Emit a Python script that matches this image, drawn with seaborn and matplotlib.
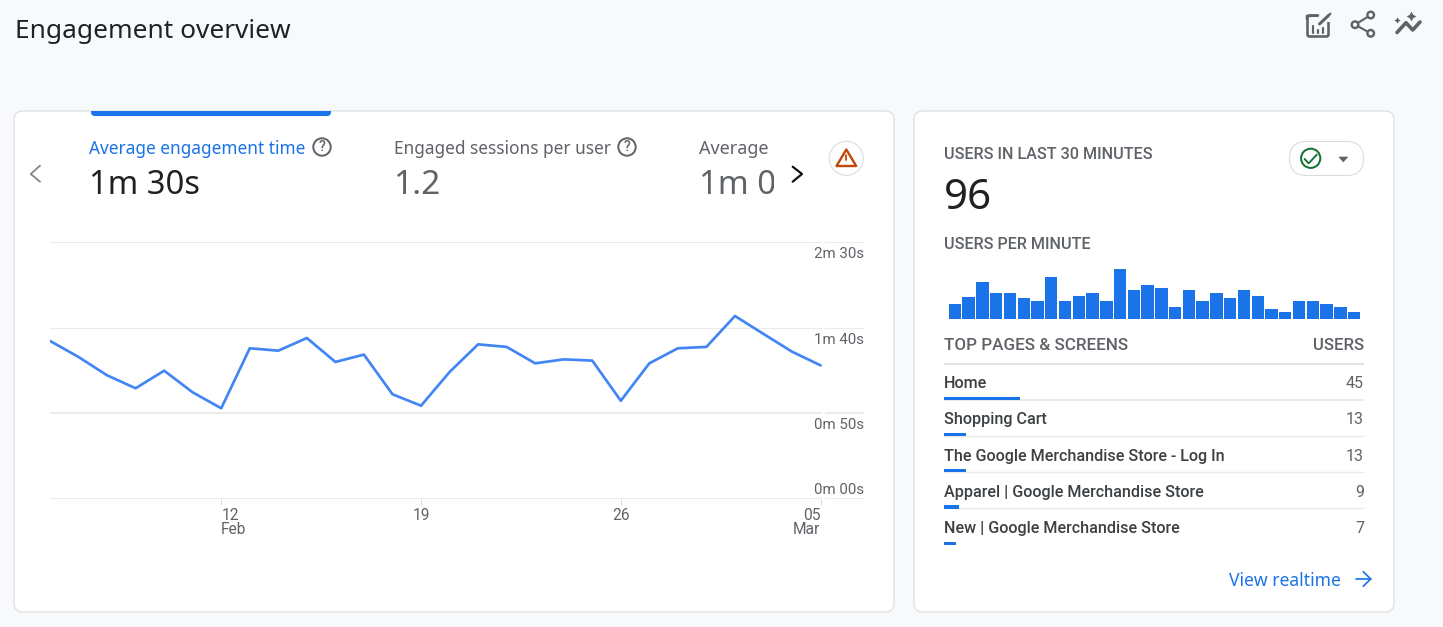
import numpy as np
import pandas as pd
import matplotlib
matplotlib.use("Agg")
import matplotlib.pyplot as plt
import seaborn as sns
from matplotlib.patches import FancyBboxPatch, Rectangle, Circle, Polygon
from matplotlib.transforms import ScaledTranslation

# ---------- data ----------
start_date = "2023-02-06"
engagement_seconds = [92.3, 82.9, 72.2, 64.6, 74.9, 62.2, 52.9, 88.0, 86.6, 94.0,
                      80.0, 84.3, 61.1, 54.4, 74.1, 90.3, 88.8, 79.2, 81.5, 80.8,
                      57.3, 79.2, 88.0, 88.8, 106.9, 96.4, 86.0, 78.0]
y_ticks = [0, 50, 100, 150]
y_tick_labels = ["0m 00s", "0m 50s", "1m 40s", "2m 30s"]
x_tick_dates = ["2023-02-12", "2023-02-19", "2023-02-26", "2023-03-05"]
x_tick_labels = ["12\nFeb", "19", "26", "05\nMar"]
users_per_minute = [6, 9, 15, 10.4, 10.4, 8.4, 7.2, 16.8, 7.2, 9.2, 10.4, 7.2, 20, 11.6, 13.6,
                    12.4, 4.8, 11.6, 7.2, 10.4, 8.4, 11.6, 9.2, 4, 2.8, 7.2, 7.2, 6, 4.8, 2.8]
pages = ["Home", "Shopping Cart", "The Google Merchandise Store - Log In",
         "Apparel | Google Merchandise Store", "New | Google Merchandise Store"]
page_users = [45, 13, 13, 9, 7]

# ---------- style ----------
W, H = 1443, 627
BG = "#f8f9fb"; BORDER = "#dadce0"; GREY = "#5f6368"; DARK = "#202124"
BLUE = "#1a73e8"; LINE = "#4285f4"; LINK = "#1a73e8"; GRID = "#ebebeb"
HEAD = "Noto Sans"; BODY = "Roboto"
sns.set_theme(style="white")
plt.rcParams["font.family"] = [BODY, "DejaVu Sans"]

fig = plt.figure(figsize=(W / 100, H / 100), dpi=100, facecolor=BG)
px = 0.72  # points per pixel at 100 dpi


def box(x0, y0, x1, y1, z):
    return fig.add_axes([x0 / W, 1 - y1 / H, (x1 - x0) / W, (y1 - y0) / H], zorder=z)


def overlay(z):
    a = box(0, 0, W, H, z)
    a.set_xlim(0, W); a.set_ylim(H, 0); a.axis("off"); a.patch.set_alpha(0)
    return a


bg = overlay(0)
fg = overlay(5)
renderer = fig.canvas.get_renderer()


def T(x, y, s, size, color=GREY, ha="left", family=BODY, w=None, weight="normal", ax=None):
    t = (ax or fg).text(x, y, s, fontsize=size * px, color=color, ha=ha, va="baseline",
                        family=family, weight=weight)
    if w is not None:
        cur = t.get_window_extent(renderer).width
        t.set_fontsize(t.get_fontsize() * w / cur)
    return t


def poly(pts, color=GREY, lw=2.0, ax=None, **kw):
    xs, ys = zip(*pts)
    (ax or fg).plot(xs, ys, color=color, lw=lw * px, solid_capstyle="round",
                    solid_joinstyle="round", **kw)


def help_icon(cx, cy):
    fg.add_patch(Circle((cx, cy), 8.7, fill=False, ec=GREY, lw=2.0 * px))
    fg.text(cx, cy + 0.3, "?", fontsize=14 * px, color=GREY, ha="center", va="center",
            family=BODY, weight="medium")


# ---------- cards ----------
for x0, y0, x1, y1 in [(14, 111, 894, 612), (914, 111, 1394, 612)]:
    bg.add_patch(FancyBboxPatch((x0, y0), x1 - x0, y1 - y0,
                                boxstyle="round,pad=0,rounding_size=9",
                                fc="white", ec=BORDER, lw=1.1 * px))
tab = FancyBboxPatch((91, 95), 240, 21, boxstyle="round,pad=0,rounding_size=4", fc=BLUE, ec="none")
bg.add_patch(tab)
tab.set_clip_path(Rectangle((0, 110.5), W, 10, transform=bg.transData))

# ---------- header ----------
T(15, 38.3, "Engagement overview", 26, DARK, family=HEAD, w=275)

# top-right icons
fg.add_patch(FancyBboxPatch((1307.5, 15.5), 21, 21, boxstyle="round,pad=0,rounding_size=2",
                            fc="none", ec=GREY, lw=2.6 * px))
fg.add_patch(Rectangle((1318, 10), 13, 11.5, fc=BG, ec="none"))
poly([(1307, 19), (1307, 16), (1318, 15.5)], lw=2.6)
for bx, by in [(1313, 26), (1318, 30), (1323, 28)]:
    poly([(bx, by), (bx, 33)], lw=2.2)
poly([(1319.5, 24), (1329, 15)], lw=3)
poly([(1330, 14), (1330.5, 13.5)], lw=2)
poly([(1370.7, 15), (1355, 24.7), (1370.7, 33.3)], lw=2.1)
for nx, ny in [(1370.7, 15), (1355, 24.7), (1370.7, 33.3)]:
    fg.add_patch(Circle((nx, ny), 3.3, fc=BG, ec=GREY, lw=2.4 * px, zorder=4))
poly([(1397, 32.5), (1406, 22.7), (1412.7, 30), (1420, 22)], lw=3.6)
fg.plot([1397.3], [20], marker=(4, 1, 0), ms=4.5, color=GREY, mew=0)
fg.plot([1411], [16.2], marker=(4, 1, 0), ms=7, color=GREY, mew=0)

# ---------- metric tabs ----------
T(89, 154, "Average engagement time", 18, LINK, family=HEAD, w=215)
help_icon(322, 147)
T(89, 194.3, "1m 30s", 36, DARK, family=HEAD, w=111)
T(394, 154, "Engaged sessions per user", 18, GREY, family=HEAD, w=215)
help_icon(627, 147)
T(394, 194.3, "1.2", 33.5, GREY, family=HEAD)
clip = Rectangle((680, 130), 94, 70, transform=fg.transData)
for t in (T(699, 154, "Average e", 18, GREY, family=HEAD),
          T(699, 194.3, "1m 0", 33, GREY, family=HEAD)):
    t.set_clip_path(clip); t.set_clip_on(True)
poly([(40, 165.7), (30.7, 174), (40, 181.7)], color="#80868b", lw=1.8)
poly([(792.7, 166.7), (802, 174), (792.7, 181.7)], color="#111111", lw=2.2)
fg.add_patch(Circle((846.3, 158.3), 17, fc="white", ec=BORDER, lw=1.1 * px))
fg.add_patch(Polygon([(846.3, 149.5), (836.5, 166), (856.2, 166)], closed=True, fc="none",
                     ec="#bf4a0c", lw=2.4 * px, joinstyle="round"))
poly([(846.3, 155), (846.3, 160)], color="#bf4a0c", lw=1.8)
poly([(846.3, 162.6), (846.3, 163.2)], color="#bf4a0c", lw=1.8)

# ---------- line chart ----------
dates = pd.date_range(start_date, periods=len(engagement_seconds), freq="D")
df = pd.DataFrame({"date": dates, "seconds": engagement_seconds})
ax = box(50, 242.3, 863.6, 498.7, 1)
ax.patch.set_alpha(0)
sns.lineplot(data=df, x="date", y="seconds", color=LINE, lw=2.7 * px, ax=ax, errorbar=None)
ax.set_xlabel(""); ax.set_ylabel("")
day0 = matplotlib.dates.date2num(dates[0])
ax.set_xlim(day0, day0 + (863.6 - 50) / 28.54)
ax.set_ylim(0, 150)
sns.despine(ax=ax, left=True, bottom=True, top=True, right=True)
ax.set_yticks(y_ticks, labels=y_tick_labels)
ax.grid(axis="y", color=GRID)
for val, gl in zip(y_ticks, ax.get_ygridlines()):
    gl.set_linewidth((2.0 if val < 100 else 1.3) * px)
ax.tick_params(axis="y", left=False, right=False, labelleft=False, labelright=True, pad=0,
               length=0, labelsize=15 * px, labelcolor=GREY)
for val, tick in zip(y_ticks, ax.yaxis.get_major_ticks()):
    lab = tick.label2
    lab.set_ha("right"); lab.set_va("baseline")
    dy = 4.4 if val == 0 else -16
    lab.set_transform(lab.get_transform() + ScaledTranslation(0.4 * px / 72, dy * px / 72, fig.dpi_scale_trans))
ax.set_xticks(pd.to_datetime(x_tick_dates), labels=x_tick_labels)
ax.tick_params(axis="x", bottom=True, length=6 * px, width=1 * px, color=BORDER, pad=3 * px,
               labelsize=15.5 * px, labelcolor=GREY)
for i, lab in enumerate(ax.get_xticklabels()):
    lab.set_linespacing(0.98)
    if i == 0:
        lab.set_ha("left"); lab.set_multialignment("left")
    elif i == 3:
        lab.set_ha("right"); lab.set_multialignment("right")
# small breaks in the gridlines beside the last date
for gy in (242.3, 327.8, 413.3, 498.7):
    fg.add_patch(Rectangle((821.5, gy - 2), 3.5, 4, fc="white", ec="none"))

# ---------- realtime card ----------
T(944, 159.3, "USERS IN LAST 30 MINUTES", 13.5, GREY, w=207, weight="medium")
T(944, 208.7, "96", 46, DARK, family=HEAD, w=48)
T(944, 249, "USERS PER MINUTE", 13.5, GREY, w=146, weight="medium")
T(944, 350, "TOP PAGES & SCREENS", 13.5, GREY, w=183, weight="medium")
T(1364, 350, "USERS", 13.5, GREY, ha="right", w=51, weight="medium")
fg.add_patch(FancyBboxPatch((1289.5, 141.5), 74, 34, boxstyle="round,pad=0,rounding_size=17",
                            fc="white", ec=BORDER, lw=1.1 * px))
fg.add_patch(Circle((1310.7, 158.3), 9.6, fc="none", ec="#137333", lw=2.0 * px))
poly([(1304.6, 159), (1308.7, 163.4), (1316.8, 154.6)], color="#137333", lw=1.9)
fg.add_patch(Polygon([(1338.3, 156.7), (1348.3, 156.7), (1343.3, 162.3)], closed=True, fc=GREY, ec="none"))

bars = box(948, 269, 1361, 319, 1)
bars.patch.set_alpha(0)
sns.barplot(x=list(range(len(users_per_minute))), y=users_per_minute, color=BLUE, saturation=1,
            width=0.9, ax=bars, errorbar=None, linewidth=0)
bars.set_xlim(-0.5, len(users_per_minute) - 0.5)
bars.set_ylim(0, max(users_per_minute))
bars.axis("off")

# table
for yy, lw, col in [(364.3, 1.6, BORDER), (399.7, 2.0, "#e8eaed"), (436.3, 1.4, "#e8eaed"),
                    (472.3, 1.4, "#e8eaed"), (508.3, 1.4, "#e8eaed")]:
    bg.plot([944, 1364], [yy, yy], color=col, lw=lw * px, solid_capstyle="butt")
tbl = box(944, 364.3, 1364, 546, 1)
tbl.patch.set_alpha(0)
tdf = pd.DataFrame({"page": pages, "users": page_users})
sns.barplot(data=tdf, y="page", x="users", color=BLUE, saturation=1, width=3.2 / 36.25,
            ax=tbl, errorbar=None, orient="h", linewidth=0)
tbl.set_xlim(0, 420 / 1.68)
tbl.set_ylim((546 - 398.3) / 36.25, (364.3 - 398.3) / 36.25)
tbl.axis("off")
tbl.set_xlabel(""); tbl.set_ylabel("")
for i, (p, u) in enumerate(zip(pages, page_users)):
    yb = i - 10.2 / 36.25
    tbl.text(0, yb, p, fontsize=16.1 * px, color="#3c4043", ha="left", va="baseline",
             family=BODY, weight="medium")
    tbl.text(250, yb, str(u), fontsize=16 * px, color=GREY, ha="right", va="baseline", family=BODY)

T(1229, 585.7, "View realtime", 17, LINK, family=HEAD, w=112)
poly([(1356, 579), (1370.5, 579)], color=LINK, lw=1.7)
poly([(1363.3, 571.7), (1370.7, 579), (1363.3, 586.2)], color=LINK, lw=1.7)

fig.savefig("out.png", dpi=100, facecolor=BG)
